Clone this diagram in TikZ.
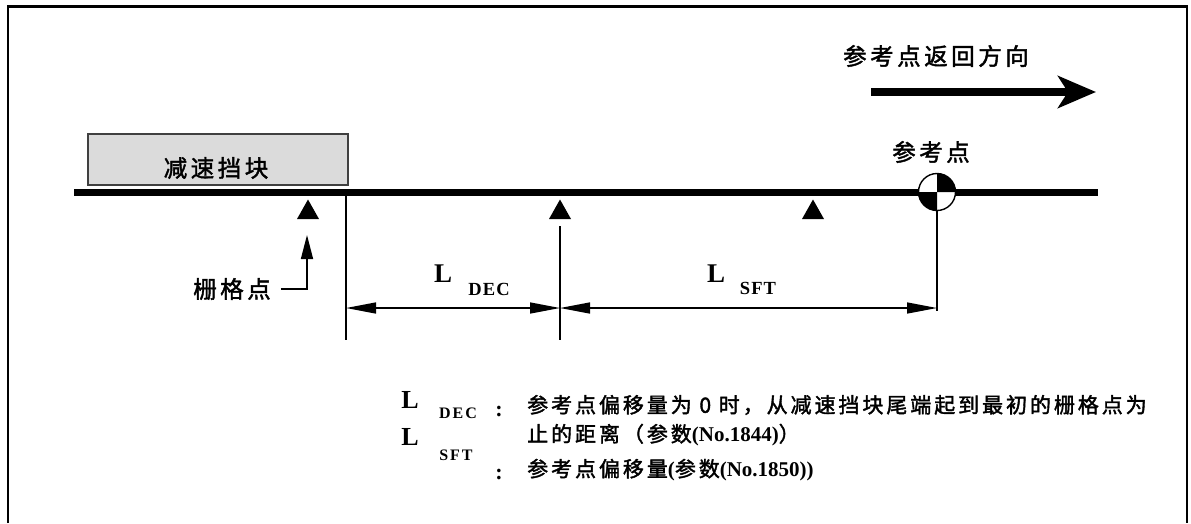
\documentclass[tikz,border=0pt]{standalone}
\usepackage{fontspec}
\newfontfamily\cjk[FakeBold=1.8]{Noto Sans CJK SC}
\newfontfamily\tms{Liberation Serif}
\usetikzlibrary{arrows.meta}
\tikzset{
  frameline/.style={line width=2.2pt},
  axisline/.style={line width=7pt},
  vline/.style={line width=1.8pt},
  dimline/.style={line width=1.4pt,{Triangle[length=30pt,width=11pt]}-{Triangle[length=30pt,width=11pt]}},
  dogbox/.style={draw=black!75,line width=1.5pt,fill=black!14,inner sep=0pt},
  lbl/.style={inner sep=0pt,font=\cjk\fontsize{23.5}{28}\selectfont\addfontfeature{LetterSpace=15}},
  legtext/.style={inner sep=0pt,anchor=west,font=\cjk\fontsize{21}{25}\selectfont\addfontfeature{LetterSpace=14}},
  bigL/.style={inner sep=0pt,font=\tms\bfseries\fontsize{27}{30}\selectfont},
  subL/.style={inner sep=0pt,font=\tms\bfseries\fontsize{18.5}{20}\selectfont\addfontfeature{LetterSpace=6}},
  legL/.style={inner sep=0pt,font=\tms\bfseries\fontsize{26}{30}\selectfont},
  legsub/.style={inner sep=0pt,font=\tms\bfseries\fontsize{16}{18}\selectfont\addfontfeature{LetterSpace=12}},
  colon/.style={inner sep=0pt,font=\tms\bfseries\fontsize{22}{26}\selectfont},
}
\begin{document}
\begin{tikzpicture}[x=1pt,y=-1pt]
\useasboundingbox (0,0) rectangle (1191,523);
% frame
\draw[frameline] (8,523) -- (8,6.5) -- (1187,6.5) -- (1187,523);

% direction arrow
\node[lbl] (dirlab) at (936,56) {参考点返回方向};
\coordinate (dirA) at (871,92);
\coordinate (dirB) at (1096,92);
\draw[line width=8.5pt,-{Stealth[length=38pt,width=32pt,inset=10pt]}] (dirA) -- (dirB);

% deceleration dog
\node[dogbox,minimum width=260pt,minimum height=51pt] (dog) at (218,159.5) {};
\node[lbl] (doglab) at (216,168) {减速挡块};

% axis
\coordinate (axL) at (74,192.5);
\coordinate (axR) at (1098,192.5);
\draw[axisline] (axL) -- (axR);

% grid points
\coordinate (g1) at (308,219);
\coordinate (g2) at (560,219);
\coordinate (g3) at (813,219);
\foreach \g in {g1,g2,g3}{
  \fill (\g) ++(-11,0) -- ++(11,-19.5) -- ++(11,19.5) -- cycle;
}

% reference point
\node[circle,minimum size=37pt,inner sep=0pt,fill=white] (rp) at (937,192) {};
\fill (rp.center) -- ++(0:18.5) arc[start angle=0,end angle=-90,radius=18.5] -- cycle;
\fill (rp.center) -- ++(90:18.5) arc[start angle=90,end angle=180,radius=18.5] -- cycle;
\draw[line width=1.4pt] (rp.center) circle[radius=18.5];
\node[lbl] (rplab) at (931,152) {参考点};

% grid label and arrow
\node[lbl] (glab) at (232,289) {栅格点};
\coordinate (gtip) at (307,235);
\draw[line width=1.5pt,-{Triangle[length=24pt,width=12pt]}] ([xshift=10pt]glab.east) -| (gtip);

% vertical lines
\coordinate (v1a) at (346,196);
\coordinate (v1b) at (346,340);
\coordinate (v2a) at (560,226);
\coordinate (v2b) at (560,340);
\coordinate (v3b) at (937,311);
\draw[vline] (v1a) -- (v1b);
\draw[vline] (v2a) -- (v2b);
\draw[vline] (rp.south) -- (v3b);

% dimension arrows
\coordinate (d1) at (346,308);
\coordinate (d2) at (560,308);
\coordinate (d3) at (937,308);
\draw[dimline] (d1) -- (d2);
\draw[dimline] (d2) -- (d3);

\node[bigL] (LDEC) at (443,274) {L};
\node[subL] (sDEC) at (489,289) {DEC};
\node[bigL] (LSFT) at (716,274) {L};
\node[subL] (sSFT) at (758,288) {SFT};

% legend
\node[legL] (lL1) at (410,400) {L};
\node[legsub] (lS1) at (458,413) {DEC};
\node[legL] (lL2) at (410,437) {L};
\node[legsub] (lS2) at (456,455) {SFT};
\node[colon] (c1) at (499,411) {:};
\node[colon] (c2) at (499,474) {:};
\node[legtext] (t1) at (527,405) {参考点偏移量为 0 时，从减速挡块尾端起到最初的栅格点为};
\node[legtext] (t2) at (527,435) {止的距离（参数{\tms\bfseries (No.1844)}）};
\node[legtext] (t3) at (527,470) {参考点偏移量{\tms\bfseries (}参数{\tms\bfseries (No.1850))}};
\end{tikzpicture}
\end{document}
